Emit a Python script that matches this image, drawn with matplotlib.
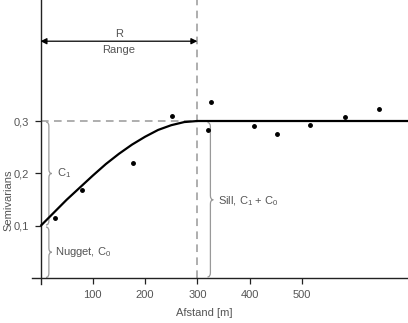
import matplotlib
matplotlib.use("Agg")
import matplotlib.pyplot as plt
from matplotlib.path import Path
from matplotlib.patches import PathPatch
from matplotlib.ticker import FuncFormatter

plt.rcParams['font.family'] = ['Liberation Sans', 'DejaVu Sans']

# Empirical semivariance points (distance, semivariance)
pts_x = [28, 79, 177, 251, 327, 321, 408, 452, 516, 583, 648]
pts_y = [0.116, 0.169, 0.220, 0.310, 0.336, 0.283, 0.290, 0.276, 0.292, 0.307, 0.323]

# Model curve
curve_x = [0, 25, 50, 75, 100, 125, 150, 175, 200, 225, 250, 275, 300, 703]
curve_y = [0.100, 0.125, 0.150, 0.173, 0.196, 0.218, 0.2375, 0.255, 0.270, 0.283, 0.292, 0.298, 0.300, 0.300]

nugget = 0.1
sill = 0.3
range_r = 300

xticks = [100, 200, 300, 400, 500]
yticks = [0.1, 0.2, 0.3]

W, H = 408, 323
fig = plt.figure(figsize=(W / 100, H / 100), dpi=100)
ax = fig.add_axes([32 / W, (H - 284) / H, 376 / W, 284 / H])
ax.set_xlim(-16.3, 703)
ax.set_ylim(-0.0105, 0.5305)

for s in ['top', 'right']:
    ax.spines[s].set_visible(False)
ax.spines['left'].set_position(('data', 0))
ax.spines['bottom'].set_position(('data', 0))
for s in ['left', 'bottom']:
    ax.spines[s].set_color('#222222')
    ax.spines[s].set_linewidth(1.0)

ax.set_xticks(xticks)
ax.set_yticks(yticks)
ax.yaxis.set_major_formatter(FuncFormatter(lambda v, p: f"{v:.1f}".replace('.', ',')))
ax.tick_params(axis='both', direction='out', length=4.5, width=0.9, color='#222222',
               labelsize=8, labelcolor='#555555', pad=4)

tc = '#555555'
# dashed guides
ax.plot([0, range_r], [sill, sill], ls=(0, (5, 3.5)), color='#999999', lw=1.1, zorder=1)
ax.plot([range_r, range_r], [0, 0.5305], ls=(0, (5, 3.5)), color='#999999', lw=1.1, zorder=1)

# model curve
ax.plot(curve_x, curve_y, color='black', lw=1.6, zorder=3, solid_capstyle='butt')

# points
ax.plot(pts_x, pts_y, 'o', color='black', ms=2.5, zorder=4)

# range arrow
ax.annotate('', xy=(0, 0.452), xytext=(range_r, 0.452),
            arrowprops=dict(arrowstyle='<|-|>', color='black', lw=0.9,
                            mutation_scale=9, shrinkA=0, shrinkB=0))
ax.text(range_r / 2, 0.466, 'R', ha='center', va='center', fontsize=8, color=tc)
ax.text(range_r / 2, 0.435, 'Range', ha='center', va='center', fontsize=8, color=tc)


def brace(x, y0, y1, w=5.5, d=0.008, color='#999999'):
    ym = (y0 + y1) / 2
    verts = [(x - w, y1), (x, y1), (x, y1 - d),
             (x, ym + d),
             (x, ym), (x + w, ym),
             (x, ym), (x, ym - d),
             (x, y0 + d),
             (x, y0), (x - w, y0)]
    codes = [Path.MOVETO, Path.CURVE3, Path.CURVE3,
             Path.LINETO,
             Path.CURVE3, Path.CURVE3,
             Path.CURVE3, Path.CURVE3,
             Path.LINETO,
             Path.CURVE3, Path.CURVE3]
    ax.add_patch(PathPatch(Path(verts, codes), fill=False, edgecolor=color, lw=0.9, zorder=2))


brace(16, 0.102, 0.298)
brace(16, 0.002, 0.098)
brace(325, 0.003, 0.297)

ax.text(31, 0.2, r'C$_\mathregular{1}$', ha='left', va='center', fontsize=8, color=tc)
ax.text(28, 0.05, r'Nugget, C$_\mathregular{0}$', ha='left', va='center', fontsize=8, color=tc)
ax.text(340, 0.148, r'Sill, C$_\mathregular{1}$ + C$_\mathregular{0}$', ha='left', va='center', fontsize=8, color=tc)

fig.text(204 / W, 1 - 313.5 / H, 'Afstand [m]', ha='center', va='center', fontsize=8, color=tc)
fig.text(8 / W, 1 - 200 / H, 'Semivarians', ha='center', va='center', rotation=90, fontsize=8, color=tc)

fig.savefig('out.png', dpi=100)
